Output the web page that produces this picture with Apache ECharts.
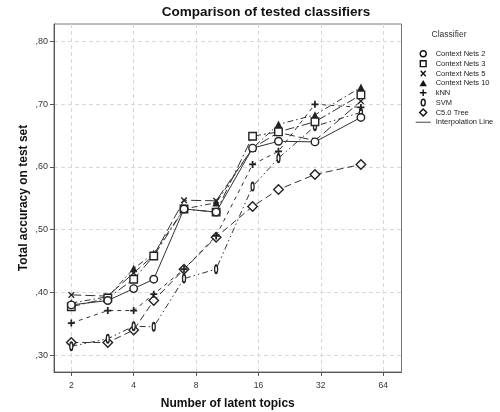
<!DOCTYPE html>
<html>
<head>
<meta charset="utf-8">
<script src="https://cdn.jsdelivr.net/npm/echarts@6/dist/echarts.min.js"></script>
<style>html,body{margin:0;padding:0;background:#fff}#c{width:500px;height:412px}</style>
</head>
<body>
<div id="c"></div>
<script>
// ---- data ----
const topics = [2, 3, 4, 5, 7, 10, 15, 20, 30, 50];
const contextNets2  = [0.380, 0.387, 0.406, 0.421, 0.533, 0.528, 0.630, 0.641, 0.640, 0.679];
const contextNets3  = [0.377, 0.391, 0.421, 0.458, 0.533, 0.528, 0.649, 0.656, 0.672, 0.715];
const contextNets5  = [0.396, 0.394, 0.431, 0.459, 0.547, 0.546, 0.630, 0.655, 0.642, 0.705];
const contextNets10 = [0.383, 0.393, 0.438, 0.462, 0.533, 0.543, 0.630, 0.668, 0.683, 0.727];
const knn           = [0.351, 0.371, 0.371, 0.397, 0.437, 0.490, 0.604, 0.625, 0.700, 0.695];
const svm           = [0.314, 0.326, 0.346, 0.345, 0.422, 0.437, 0.569, 0.614, 0.665, 0.687];
const c50Tree       = [0.320, 0.320, 0.340, 0.387, 0.437, 0.488, 0.537, 0.564, 0.588, 0.604];
const xTicks = [2, 4, 8, 16, 32, 64];
const yTicks = [0.3, 0.4, 0.5, 0.6, 0.7, 0.8];
const seriesNames = ['Context Nets 2', 'Context Nets 3', 'Context Nets 5', 'Context Nets 10', 'kNN', 'SVM', 'C5.0 Tree'];
const seriesValues = [contextNets2, contextNets3, contextNets5, contextNets10, knn, svm, c50Tree];
const interpName = 'Interpolation Line';

// ---- marker shapes ----
const XPATH = 'path://M0,1.2L1.2,0L4,2.8L6.8,0L8,1.2L5.2,4L8,6.8L6.8,8L4,5.2L1.2,8L0,6.8L2.8,4Z';
const PLUS = 'path://M3,0H5V3H8V5H5V8H3V5H0V3H3Z';
const ELLIPSE = 'path://M3,0A3,5,0,1,1,3,10A3,5,0,1,1,3,0Z';
// legend icons drawn in a 15x7 frame (frame fixed by the two leading moveTo points)
const F = 'path://M0,0M15,7';
const legendIcons = [
  F + 'M10.5,3.5A3,3,0,1,1,4.5,3.5A3,3,0,1,1,10.5,3.5Z',
  F + 'M4.6,0.6H10.4V6.4H4.6Z',
  F + 'M4.5,1.2L5.5,0.2L7.5,2.5L9.5,0.2L10.5,1.2L8.5,3.5L10.5,5.8L9.5,6.8L7.5,4.5L5.5,6.8L4.5,5.8L6.5,3.5Z',
  F + 'M7.5,0.3L11.2,6.7H3.8Z',
  F + 'M6.8,0.2H8.2V2.8H10.8V4.2H8.2V6.8H6.8V4.2H4.2V2.8H6.8Z',
  F + 'M7.5,0.3A2,3.2,0,1,1,7.5,6.7A2,3.2,0,1,1,7.5,0.3Z',
  F + 'M7.5,0.1L11,3.5L7.5,6.9L4,3.5Z'
];
const LINE_ICON = F + 'M0,2.8H15V4.2H0Z';
const styles = [
  {symbol: 'circle', size: 7.5, fill: '#fff', bw: 1.4, dash: 'solid'},
  {symbol: 'rect', size: 7.5, fill: '#fff', bw: 1.4, dash: [9, 3, 2, 3]},
  {symbol: XPATH, size: 6.5, fill: '#222', bw: 0, dash: [10, 4]},
  {symbol: 'triangle', size: 7.5, fill: '#222', bw: 0, dash: [6, 3, 1.5, 3]},
  {symbol: PLUS, size: 7, fill: '#222', bw: 0, dash: [4, 4]},
  {symbol: ELLIPSE, size: [5, 8], fill: '#fff', bw: 1.6, dash: [6, 3, 1.5, 3, 1.5, 3]},
  {symbol: 'diamond', size: 9.5, fill: '#fff', bw: 1.4, dash: [7, 4]}
];

const series = seriesNames.map((name, i) => ({
  name: name,
  type: 'line',
  data: topics.map((t, j) => [t, seriesValues[i][j]]),
  symbol: styles[i].symbol,
  symbolSize: styles[i].size,
  symbolKeepAspect: true,
  showAllSymbol: true,
  z: 10 - i,
  lineStyle: {color: '#333', width: 1, type: styles[i].dash},
  itemStyle: {color: styles[i].fill, borderColor: '#222', borderWidth: styles[i].bw}
}));
series.push({name: interpName, type: 'line', data: [], symbol: 'none', lineStyle: {color: '#777', width: 1.5}});

const legendData = seriesNames.map((name, i) => ({
  name: name,
  icon: legendIcons[i],
  itemStyle: {color: styles[i].fill === '#fff' ? '#fff' : '#111', borderColor: '#111', borderWidth: styles[i].bw ? 1.4 : 0}
}));
legendData.push({name: interpName, icon: LINE_ICON, itemStyle: {color: '#777', borderWidth: 0}});

const chart = echarts.init(document.getElementById('c'), null, {renderer: 'canvas'});
chart.setOption({
  animation: false,
  backgroundColor: '#fff',
  textStyle: {fontFamily: 'Liberation Sans, Arial, sans-serif'},
  title: [
    {text: 'Comparison of tested classifiers', left: 266, top: 5, padding: 0, textAlign: 'center',
     textStyle: {fontSize: 13.5, fontWeight: 'bold', color: '#111', fontFamily: 'Liberation Sans'}},
    {text: 'Classifier', left: 449, top: 30, padding: 0, textAlign: 'center',
     textStyle: {fontSize: 8.5, fontWeight: 'normal', color: '#333', fontFamily: 'Liberation Sans'}}
  ],
  legend: {
    orient: 'vertical', left: 415, top: 49.5, padding: 0,
    itemWidth: 15, itemHeight: 7, itemGap: 1.6,
    selectedMode: false, symbolKeepAspect: true,
    textStyle: {fontSize: 7.5, color: '#222', fontFamily: 'Liberation Sans'},
    data: legendData
  },
  grid: {left: 54, top: 24, right: 98.5, bottom: 40, show: true, borderColor: '#777', borderWidth: 1,
         outerBoundsMode: 'none', containLabel: false},
  xAxis: {
    type: 'log', logBase: 2, min: 1.65, max: 78.5,
    name: 'Number of latent topics', nameLocation: 'middle', nameGap: 26, nameMoveOverlap: false,
    nameTextStyle: {fontSize: 12, fontWeight: 'bold', color: '#111'},
    axisLine: {lineStyle: {color: '#555', width: 1}},
    axisTick: {show: true, length: 4, lineStyle: {color: '#555'}, customValues: xTicks},
    axisLabel: {fontSize: 8.5, color: '#333', margin: 9, customValues: xTicks, formatter: v => String(Math.round(v))},
    splitLine: {show: true, lineStyle: {color: '#d8d8d8', type: [4, 3]}}
  },
  yAxis: {
    type: 'value', min: 0.273, max: 0.828,
    name: 'Total accuracy on test set', nameLocation: 'middle', nameGap: 24, nameMoveOverlap: false,
    nameTextStyle: {fontSize: 12, fontWeight: 'bold', color: '#111'},
    axisLine: {show: true, lineStyle: {color: '#555', width: 1}},
    axisTick: {show: true, length: 4, lineStyle: {color: '#555'}, customValues: yTicks},
    axisLabel: {fontSize: 9, color: '#333', margin: 6, customValues: yTicks,
      formatter: v => ',' + String(Math.round(v * 100))},
    splitLine: {show: true, lineStyle: {color: '#d8d8d8', type: [4, 3]}}
  },
  series: series
});
</script>
</body>
</html>
